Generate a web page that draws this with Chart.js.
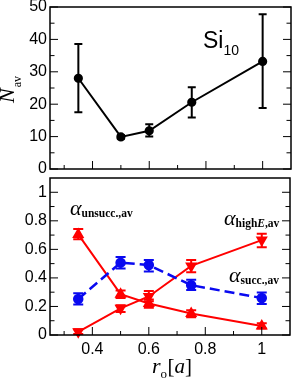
<!DOCTYPE html>
<html>
<head>
<meta charset="utf-8">
<script src="https://cdn.jsdelivr.net/npm/chart.js@4.4.1/dist/chart.umd.min.js"></script>
<style>
    html, body { margin: 0; padding: 0; background: #fff; }
    #wrap { position: relative; width: 297px; height: 382px; overflow: hidden; }
    canvas { position: absolute; left: 0; }
    #alphaChart { top: 171px; }
    #nChart { top: 0; }
</style>
</head>
<body>
<div id="wrap">
    <canvas id="alphaChart" width="297" height="211"></canvas>
    <canvas id="nChart" width="297" height="182"></canvas>
</div>
<script>
// Data
const rO = [0.35, 0.5, 0.6, 0.75, 1.0];

const nAv = [28.0, 9.9, 11.8, 20.6, 33.2];
const nLo = [17.5, 9.3, 10.0, 15.9, 18.8];
const nHi = [38.6, 10.5, 13.8, 25.2, 47.8];

const alphaUnsucc = [0.705, 0.286, 0.221, 0.151, 0.063];
const alphaUnsuccLo = [0.67, 0.259, 0.191, 0.124, 0.045];
const alphaUnsuccHi = [0.743, 0.311, 0.248, 0.174, 0.083];

const alphaHighE = [0.022, 0.187, 0.27, 0.484, 0.665];
const alphaHighELo = [0.007, 0.162, 0.236, 0.439, 0.615];
const alphaHighEHi = [0.04, 0.209, 0.309, 0.525, 0.71];

const alphaSucc = [0.252, 0.507, 0.49, 0.349, 0.259];
const alphaSuccLo = [0.214, 0.466, 0.445, 0.315, 0.218];
const alphaSuccHi = [0.293, 0.547, 0.525, 0.387, 0.297];

const xMajorTicks = [0.4, 0.6, 0.8, 1.0];
const xMinorTicks = [0.3, 0.5, 0.7, 0.9];
const nMajorTicks = [0, 10, 20, 30, 40, 50];
const nMinorTicks = [5, 15, 25, 35, 45];
const alphaMajorTicks = [0, 0.2, 0.4, 0.6, 0.8, 1.0];
const alphaMinorTicks = [0.1, 0.3, 0.5, 0.7, 0.9];

const RED = "rgb(255,0,0)";
const BLUE = "rgb(10,10,240)";
const SANS = "'Liberation Sans', Arial, sans-serif";
const SERIF = "'Liberation Serif', 'Times New Roman', serif";

function points(ys) {
    return rO.map((x, i) => ({ x: x, y: ys[i] }));
}

// draws error bars from errLo / errHi arrays through the chart scales
const errorBars = {
    id: "errorBars",
    afterDatasetsDraw(chart) {
        const { ctx, scales } = chart;
        chart.data.datasets.forEach((ds) => {
            if (!ds.errLo) return;
            const cap = ds.capWidth / 2;
            ctx.save();
            ctx.strokeStyle = ds.borderColor;
            ctx.lineWidth = 2;
            ctx.beginPath();
            ds.data.forEach((p, i) => {
                const px = scales.x.getPixelForValue(p.x);
                const lo = scales.y.getPixelForValue(ds.errLo[i]);
                const hi = scales.y.getPixelForValue(ds.errHi[i]);
                ctx.moveTo(px, lo);
                ctx.lineTo(px, hi);
                ctx.moveTo(px - cap, lo);
                ctx.lineTo(px + cap, lo);
                ctx.moveTo(px - cap, hi);
                ctx.lineTo(px + cap, hi);
            });
            ctx.stroke();
            ctx.restore();
        });
    },
};

// frame + inward tick marks
const frameTicks = {
    id: "frameTicks",
    afterDraw(chart, args, opts) {
        const { ctx, chartArea: a, scales } = chart;
        ctx.save();
        ctx.strokeStyle = "#000";
        ctx.lineWidth = 1;
        ctx.beginPath();
        const xt = (vals, len) => vals.forEach((v) => {
            const px = scales.x.getPixelForValue(v);
            ctx.moveTo(px, a.bottom);
            ctx.lineTo(px, a.bottom - len);
        });
        const yt = (vals, len) => vals.forEach((v) => {
            const py = scales.y.getPixelForValue(v);
            ctx.moveTo(a.left, py);
            ctx.lineTo(a.left + len, py);
            ctx.moveTo(a.right, py);
            ctx.lineTo(a.right - len, py);
        });
        xt(opts.xMajor, 8);
        xt(opts.xMinor, 4);
        yt(opts.yMajor, 8);
        yt(opts.yMinor, 4.5);
        ctx.stroke();
        ctx.lineWidth = 1.5;
        ctx.strokeRect(a.left, a.top, a.right - a.left, a.bottom - a.top);
        ctx.restore();
    },
};

// text made of pieces with own font and baseline shift
function drawPieces(ctx, x, y, pieces) {
    pieces.forEach((p) => {
        ctx.font = p.font;
        ctx.fillText(p.t, x + (p.dx || 0), y + (p.dy || 0));
        x += ctx.measureText(p.t).width + (p.dx || 0);
    });
}

const labels = {
    id: "labels",
    afterDraw(chart, args, opts) {
        const ctx = chart.ctx;
        ctx.save();
        ctx.fillStyle = "#000";
        ctx.textBaseline = "alphabetic";
        ctx.textAlign = "left";
        opts.items.forEach((it) => {
            if (it.rotate) {
                ctx.save();
                ctx.translate(it.x, it.y);
                ctx.rotate(-Math.PI / 2);
                drawPieces(ctx, 0, 0, it.pieces);
                ctx.restore();
            } else {
                drawPieces(ctx, it.x, it.y, it.pieces);
            }
        });
        ctx.restore();
    },
};

function fixWidth(w) {
    return function (scale) {
        scale.width = w;
        scale.paddingTop = 0;
        scale.paddingBottom = 0;
    };
}
function fixHeight(h) {
    return function (scale) {
        scale.height = h;
        scale.paddingLeft = 0;
        scale.paddingRight = 0;
    };
}

// Top panel: N_av
new Chart(document.getElementById("nChart"), {
    type: "line",
    data: {
        datasets: [
            {
                data: points(nAv),
                errLo: nLo,
                errHi: nHi,
                capWidth: 8,
                borderColor: "#000",
                backgroundColor: "#000",
                borderWidth: 2,
                pointRadius: 3.6,
                pointStyle: "circle",
                clip: false,
            },
        ],
    },
    options: {
        responsive: false,
        animation: false,
        events: [],
        layout: { padding: { top: 7, right: 2, bottom: 13, left: 0 } },
        plugins: {
            legend: { display: false },
            tooltip: { enabled: false },
            frameTicks: {
                xMajor: xMajorTicks,
                xMinor: xMinorTicks,
                yMajor: nMajorTicks,
                yMinor: nMinorTicks,
            },
            labels: {
                items: [
                    {
                        x: 14,
                        y: 103,
                        rotate: true,
                        pieces: [
                            { t: "N", font: "italic 22px " + SERIF },
                            { t: "av", font: "12px " + SERIF, dx: 1, dy: 7 },
                        ],
                    },
                    {
                        x: 203,
                        y: 48,
                        pieces: [
                            { t: "Si", font: "23px " + SANS },
                            { t: "10", font: "14px " + SANS, dy: 7 },
                        ],
                    },
                ],
            },
        },
        scales: {
            x: {
                type: "linear",
                min: 0.25,
                max: 1.1,
                display: false,
            },
            y: {
                min: 0,
                max: 50,
                grid: { display: false, drawTicks: false },
                border: { display: false },
                ticks: {
                    stepSize: 10,
                    padding: 3,
                    color: "#000",
                    font: { family: SANS, size: 16 },
                },
                afterFit: fixWidth(50),
            },
        },
    },
    plugins: [errorBars, frameTicks, labels],
});

// Bottom panel: alpha fractions
new Chart(document.getElementById("alphaChart"), {
    type: "line",
    data: {
        datasets: [
            {
                data: points(alphaSucc),
                errLo: alphaSuccLo,
                errHi: alphaSuccHi,
                capWidth: 10,
                borderColor: BLUE,
                backgroundColor: BLUE,
                borderWidth: 2.5,
                borderDash: [10, 5],
                pointRadius: 4,
                pointStyle: "circle",
                clip: false,
            },
            {
                data: points(alphaHighE),
                errLo: alphaHighELo,
                errHi: alphaHighEHi,
                capWidth: 10,
                borderColor: RED,
                backgroundColor: RED,
                borderWidth: 2,
                pointRadius: 5,
                pointStyle: "triangle",
                pointRotation: 180,
                clip: false,
            },
            {
                data: points(alphaUnsucc),
                errLo: alphaUnsuccLo,
                errHi: alphaUnsuccHi,
                capWidth: 10,
                borderColor: RED,
                backgroundColor: RED,
                borderWidth: 2,
                pointRadius: 5,
                pointStyle: "triangle",
                clip: false,
            },
        ],
    },
    options: {
        responsive: false,
        animation: false,
        events: [],
        layout: { padding: { top: 1, right: 2, bottom: 0, left: 0 } },
        plugins: {
            legend: { display: false },
            tooltip: { enabled: false },
            frameTicks: {
                xMajor: xMajorTicks,
                xMinor: xMinorTicks,
                yMajor: alphaMajorTicks,
                yMinor: alphaMinorTicks,
            },
            labels: {
                items: [
                    {
                        x: 70,
                        y: 44,
                        pieces: [
                            { t: "α", font: "italic 22px " + SERIF },
                            { t: "unsucc.,av", font: "bold 11.5px " + SERIF, dx: 0, dy: 2 },
                        ],
                    },
                    {
                        x: 224,
                        y: 54,
                        pieces: [
                            { t: "α", font: "italic 22px " + SERIF },
                            { t: "high", font: "bold 11.5px " + SERIF, dy: 2 },
                            { t: "E", font: "bold italic 11.5px " + SERIF, dy: 2 },
                            { t: ",av", font: "bold 11.5px " + SERIF, dy: 2 },
                        ],
                    },
                    {
                        x: 229,
                        y: 111,
                        pieces: [
                            { t: "α", font: "italic 22px " + SERIF },
                            { t: "succ.,av", font: "bold 11.5px " + SERIF, dy: 2 },
                        ],
                    },
                    {
                        x: 152,
                        y: 202,
                        pieces: [
                            { t: "r", font: "italic 22px " + SERIF },
                            { t: "o", font: "13px " + SERIF, dy: 5 },
                            { t: "[", font: "21px " + SERIF, dx: 0.5 },
                            { t: "a", font: "italic 21px " + SERIF },
                            { t: "]", font: "21px " + SERIF },
                        ],
                    },
                ],
            },
        },
        scales: {
            x: {
                type: "linear",
                min: 0.25,
                max: 1.1,
                grid: { display: false, drawTicks: false },
                border: { display: false },
                afterBuildTicks: (scale) => {
                    scale.ticks = xMajorTicks.map((v) => ({ value: v }));
                },
                ticks: {
                    padding: 5,
                    color: "#000",
                    font: { family: SANS, size: 16 },
                    callback: (v) => String(+v.toFixed(2)),
                },
                afterFit: fixHeight(47),
            },
            y: {
                min: 0,
                max: 1.1,
                grid: { display: false, drawTicks: false },
                border: { display: false },
                ticks: {
                    stepSize: 0.2,
                    includeBounds: false,
                    padding: 3,
                    color: "#000",
                    font: { family: SANS, size: 16 },
                    callback: (v) => String(+v.toFixed(1)),
                },
                afterFit: fixWidth(50),
            },
        },
    },
    plugins: [errorBars, frameTicks, labels],
});
</script>
</body>
</html>
